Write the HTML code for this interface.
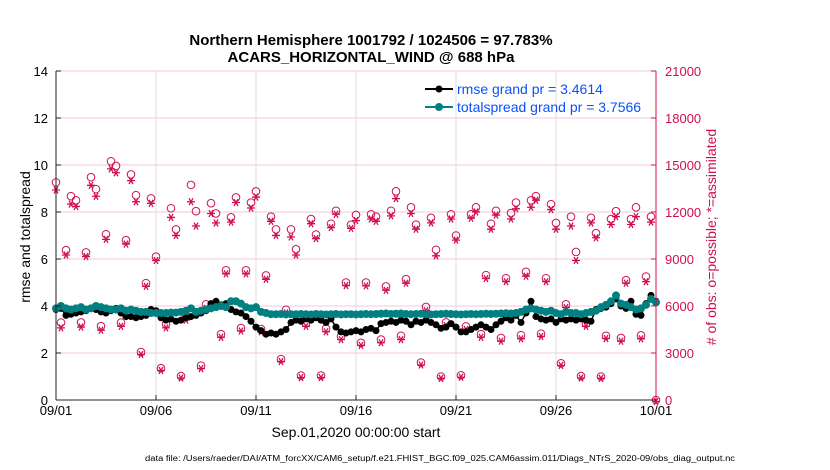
<!DOCTYPE html>
<html><head><meta charset="utf-8"><style>
body{margin:0;background:#fff;}
svg{display:block;font-family:"Liberation Sans",Arial,sans-serif;}
</style></head><body>
<svg id="chart" width="830" height="470" viewBox="0 0 830 470">
<text x="371" y="45" text-anchor="middle" font-size="15" font-weight="bold">Northern Hemisphere 1001792 / 1024506 = 97.783%</text>
<text x="371" y="62" text-anchor="middle" font-size="15" font-weight="bold">ACARS_HORIZONTAL_WIND @ 688 hPa</text>
<g id="grid"></g>
<g id="marks"></g>
<g id="axes"></g>
<g>
<line x1="425" y1="89" x2="453" y2="89" stroke="#000" stroke-width="2"/>
<circle cx="439" cy="89" r="3.5" fill="#000"/>
<text x="457" y="94" font-size="14" fill="#0a50ff">rmse grand pr = 3.4614</text>
<line x1="425" y1="107" x2="453" y2="107" stroke="#008080" stroke-width="2"/>
<circle cx="439" cy="107" r="4" fill="#008080"/>
<text x="457" y="112" font-size="14" fill="#0a50ff">totalspread grand pr = 3.7566</text>
</g>
<text transform="translate(30,237) rotate(-90)" text-anchor="middle" font-size="14">rmse and totalspread</text>
<text transform="translate(716,237) rotate(-90)" text-anchor="middle" font-size="14" fill="#d0104c"># of obs: o=possible; *=assimilated</text>
<text x="356" y="437" text-anchor="middle" font-size="14">Sep.01,2020 00:00:00 start</text>
<text x="440" y="461" text-anchor="middle" font-size="8" textLength="590" lengthAdjust="spacingAndGlyphs">data file: /Users/raeder/DAI/ATM_forcXX/CAM6_setup/f.e21.FHIST_BGC.f09_025.CAM6assim.011/Diags_NTrS_2020-09/obs_diag_output.nc</text>
</svg>
<script>
const xTickLabels=["09/01","09/06","09/11","09/16","09/21","09/26","10/01"];
const yTicks=[0,2,4,6,8,10,12,14];
const y2Ticks=[0,3000,6000,9000,12000,15000,18000,21000];
const rmse=[3.85,3.9,3.6,3.65,3.7,3.75,3.8,3.9,3.85,3.75,3.7,3.8,3.9,3.7,3.55,3.55,3.5,3.55,3.6,3.85,3.8,3.5,3.4,3.45,3.35,3.4,3.5,3.55,3.6,3.7,3.8,4.1,4.2,4.05,4.1,3.85,3.75,3.7,3.55,3.35,3.1,2.95,2.8,2.85,2.8,2.9,3.0,3.3,3.4,3.35,3.45,3.4,3.5,3.4,3.3,3.45,3.1,2.9,2.85,2.9,2.95,2.9,3.0,3.05,2.95,3.25,3.3,3.35,3.3,3.4,3.35,3.2,3.35,3.3,3.4,3.3,3.2,3.05,3.1,3.25,3.1,2.9,2.9,3.0,3.1,3.2,3.1,3.0,3.2,3.35,3.5,3.4,3.6,3.3,3.7,4.2,3.55,3.45,3.4,3.45,3.3,3.45,3.4,3.45,3.4,3.45,3.4,3.35,3.85,3.9,3.95,4.1,4.3,4.0,3.9,4.2,3.65,3.6,4.1,4.45,4.2];
const spread=[3.9,4.0,3.9,3.85,3.9,3.95,3.85,3.9,4.0,3.95,3.9,3.85,3.85,3.9,3.8,3.85,3.8,3.75,3.75,3.7,3.7,3.7,3.7,3.72,3.72,3.75,3.8,3.9,3.75,3.8,3.85,3.9,3.95,4.0,3.95,4.2,4.2,4.1,3.95,3.9,3.95,3.75,3.7,3.65,3.65,3.66,3.64,3.65,3.65,3.66,3.65,3.64,3.66,3.65,3.64,3.65,3.66,3.64,3.65,3.65,3.64,3.65,3.66,3.65,3.66,3.67,3.68,3.66,3.67,3.68,3.66,3.65,3.66,3.67,3.65,3.64,3.65,3.66,3.67,3.66,3.65,3.64,3.65,3.66,3.65,3.66,3.67,3.66,3.67,3.68,3.69,3.68,3.7,3.75,3.85,3.9,3.85,3.8,3.75,3.8,3.7,3.65,3.75,3.7,3.7,3.65,3.7,3.75,3.8,3.95,4.05,4.2,4.45,4.1,4.05,3.95,3.85,3.9,4.05,4.3,4.15];
const possible=[13890,4940,9560,13010,12750,4950,9420,14220,13460,4710,10580,15240,14940,4940,10200,14400,13070,3060,7460,12870,9150,2030,4850,12240,10890,1530,5330,13730,12050,2190,6110,12560,11910,4200,8280,11660,12930,4590,8280,12600,13310,4530,7950,11700,10890,2610,5760,10890,9620,1560,4890,11550,10560,1560,4560,11250,12080,4070,7500,11180,11810,3650,7500,11850,11700,3860,7250,12080,13320,4100,7710,12300,11190,2390,5940,11630,9590,1500,4950,11850,10500,1580,4700,11850,12300,4200,7970,11250,12080,3960,7770,11930,12600,4140,8180,12750,13010,4230,7770,12500,11300,2340,6110,11700,9450,1530,4880,11630,10650,1500,4100,11550,12050,3960,7650,11550,12300,4130,7880,11700,0];
const assimilated=[13500,4700,9350,12600,12450,4750,9250,13800,13100,4550,10350,14850,14600,4800,10050,14100,12750,3000,7350,12650,9000,1980,4700,11750,10600,1500,5200,12750,11200,2100,5950,12000,11400,4100,8150,11450,12700,4500,8150,12350,13050,4450,7800,11500,10600,2550,5650,10500,9350,1530,4800,11350,10400,1530,4450,11100,11950,3950,7400,11050,11550,3580,7380,11650,11500,3750,7100,11850,12950,3950,7550,12000,11000,2330,5800,11400,9300,1480,4850,11650,10300,1550,4600,11700,12100,4100,7850,11000,11900,3850,7650,11650,12300,4000,8000,12400,12850,4150,7650,12250,11000,2300,6000,11200,9000,1500,4800,11400,10450,1480,4020,11300,11800,3850,7550,11300,11800,4000,7650,11450,0];

const NS="http://www.w3.org/2000/svg";
const X0=56,X1=656,Y0=400,Y1=71;
const xDay=d=>X0+(X1-X0)*d/30;
const xIdx=i=>xDay(i/4);
const yL=v=>Y0-(Y0-Y1)*v/14;
const yR=v=>Y0-(Y0-Y1)*v/21000;
const crim="#d0104c";
function mk(tag,attrs,parent){const e=document.createElementNS(NS,tag);for(const k in attrs)e.setAttribute(k,attrs[k]);parent.appendChild(e);return e;}
const grid=document.getElementById('grid'),marks=document.getElementById('marks'),axes=document.getElementById('axes');
yTicks.forEach((t,i)=>{if(i===0)return;
const l=mk('line',{x1:X0,x2:X1,y1:yL(t),y2:yL(t),stroke:'#f3c9d8','stroke-width':1},grid);

});
xTickLabels.forEach((t,i)=>{const x=xDay(i*5);
if(i>0&&i<xTickLabels.length-1){const l=mk('line',{x1:x,x2:x,y1:Y1,y2:Y0,stroke:'#dcdcdc','stroke-width':1},grid);

}
const tk=mk('line',{x1:x,x2:x,y1:Y0,y2:Y0-5,stroke:'#222'},axes);


const tx=mk('text',{x:x,y:415,'text-anchor':'middle','font-size':13},axes);tx.textContent=t;

});
yTicks.forEach(t=>{const y=yL(t);
const tk=mk('line',{x1:X0,x2:X0+5,y1:y,y2:y,stroke:'#222'},axes);


const tx=mk('text',{x:X0-8,y:y+5,'text-anchor':'end','font-size':13},axes);tx.textContent=t;

});
y2Ticks.forEach(t=>{const y=yR(t);
const tk=mk('line',{x1:X1,x2:X1-5,y1:y,y2:y,stroke:crim},axes);


const tx=mk('text',{x:X1+9,y:y+5,'font-size':13,fill:crim},axes);tx.textContent=t;

});
let a=mk('line',{x1:X0,x2:X0,y1:Y1,y2:Y0,stroke:'#222'},axes);


a=mk('line',{x1:X0,x2:X1,y1:Y0,y2:Y0,stroke:'#222'},axes);


a=mk('line',{x1:X1,x2:X1,y1:Y1,y2:Y0,stroke:crim},axes);



possible.forEach((v,i)=>{const c=mk('circle',{cx:xIdx(i),cy:yR(v),r:3.8,fill:'none',stroke:crim,'stroke-width':1},marks);

});
assimilated.forEach((v,i)=>{const x=xIdx(i),y=yR(v)+1.5,r=4;
const p=mk('path',{d:`M${x-r},${y}H${x+r}M${x-r*0.5},${y-r*0.87}L${x+r*0.5},${y+r*0.87}M${x+r*0.5},${y-r*0.87}L${x-r*0.5},${y+r*0.87}`,stroke:crim,'stroke-width':1.3},marks);

});
function series(arr,color,r,name){
const pl=mk('polyline',{points:arr.map((v,i)=>xIdx(i)+','+yL(v)).join(' '),fill:'none',stroke:color,'stroke-width':1.5},marks);


arr.forEach((v,i)=>{const c=mk('circle',{cx:xIdx(i),cy:yL(v),r:r,fill:color},marks);

});}
series(rmse,'#000',3.5,'rmse');
series(spread,'#008080',4,'totalspread');
</script>
</body></html>
